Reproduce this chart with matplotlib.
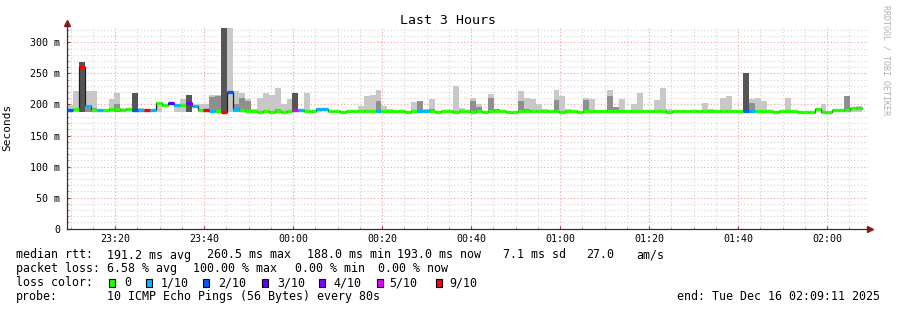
import numpy as np
import matplotlib
matplotlib.use("Agg")
import matplotlib.pyplot as plt
import matplotlib.dates as mdates
from matplotlib.patches import Rectangle
from datetime import datetime, timedelta

plt.rcParams['font.family'] = ['DejaVu Sans Mono']

# 80 s steps starting at 23:09:11
start = datetime(2025, 12, 15, 23, 9, 11)
step_s = 80

median = [190.8, 192.5, 259.7, 196.8, 190.5, 191.4, 191.0, 192.5, 192.0, 191.4,
          192.0, 191.4, 191.4, 191.4, 191.4, 202.7, 199.5, 201.6, 199.5, 199.5,
          201.6, 198.0, 191.0, 191.0, 189.2, 189.0, 188.2, 219.4, 192.0, 190.5,
          189.5, 189.5, 188.2, 188.8, 187.5, 189.0, 187.5, 188.7, 190.9, 191.0,
          188.7, 188.7, 192.0, 192.0, 188.7, 188.7, 187.5, 188.7, 188.7, 189.8,
          188.7, 189.0, 189.2, 188.7, 189.8, 188.7, 188.7, 187.5, 188.7, 189.2,
          189.2, 188.7, 187.5, 188.7, 188.7, 187.5, 188.7, 188.7, 187.5, 188.7,
          187.5, 188.7, 188.7, 188.7, 187.5, 187.5, 188.7, 189.8, 189.8, 189.8,
          189.8, 188.7, 189.8, 187.5, 188.7, 188.7, 187.5, 188.7, 188.7, 188.7,
          188.7, 188.7, 188.7, 188.7, 188.7, 188.7, 188.7, 188.7, 188.7, 188.7,
          188.7, 187.5, 188.7, 189.8, 188.7, 189.8, 188.7, 188.7, 188.7, 189.8,
          189.8, 189.8, 188.7, 188.7, 188.7, 188.7, 188.7, 188.7, 188.7, 187.5,
          188.7, 188.7, 188.7, 187.5, 187.5, 187.5, 192.0, 187.5, 187.5, 191.4,
          191.4, 191.4, 193.5, 193.5]

loss = [2, 0, 9, 1, 0, 1, 0, 0, 0, 0,
        0, 2, 1, 9, 1, 0, 0, 3, 1, 0,
        4, 1, 0, 9, 1, 0, 9, 2, 1, 0,
        0, 0, 0, 0, 0, 0, 0, 0, 5, 1,
        0, 0, 1, 1, 0, 0, 0, 0, 0, 0,
        0, 0, 1, 0, 0, 0, 0, 0, 0, 1,
        1, 0, 0, 0, 0, 0, 0, 0, 0, 0,
        0, 0, 0, 0, 0, 0, 0, 0, 0, 0,
        0, 0, 0, 0, 0, 0, 0, 0, 0, 0,
        0, 0, 0, 0, 0, 0, 0, 0, 0, 0,
        0, 0, 0, 0, 0, 0, 0, 0, 0, 0,
        0, 0, 0, 0, 2, 1, 0, 0, 0, 0,
        0, 0, 0, 0, 0, 0, 0, 0, 0, 0,
        0, 0, 0, 0]

smoke_top = [199.5, 221, 268, 221, 221, None, None, 208, 219, 195,
             None, 218, 195, None, None, 204, None, None, 201, 208.6,
             216, None, 201, 201, 216, 216, 323, 323, 221, 219,
             209, 192, 210, 219, 215, 227, 200, 208.6, 217.7, 192,
             217.7, None, 194, None, None, None, None, None, None, 198,
             214.4, 216, 224, 196.8, 192, None, None, None, 204, 206,
             192, 208, None, None, None, 229, 194, None, 211, 201,
             None, 216.6, 193, None, None, None, 221, 211, 208, 200,
             192, 191, 222.6, 213, 193, None, None, 209.7, 208, None,
             None, 224, 196, 208, 191, 200, 217.7, None, None, 206.5,
             225.7, 192, None, None, None, None, None, 203, 192, None,
             211, 213, None, None, 250, 208, 211, 205, None, None,
             None, 211, None, None, None, None, None, 201, None, None,
             None, 214, 194, 198]

smoke_dark = [None, None, 268, 195, 194, None, None, None, 200, None,
              None, 218, None, None, None, None, None, None, None, None,
              216, None, None, None, 212, 213, 323, None, 200, 210,
              205, None, None, None, None, 193, None, None, 217.7, None,
              None, None, None, None, None, None, None, None, None, None,
              None, None, 204.8, None, None, None, None, None, None, 205,
              None, 193, None, None, None, None, None, None, 204.8, 196,
              None, 211, 193, None, None, None, 205, 193, 191, None,
              None, None, 206.5, None, None, None, None, 206.5, None, None,
              None, 213, 196, None, None, None, None, None, None, None,
              None, None, None, None, None, None, None, None, None, None,
              None, None, None, None, 250, 201.6, None, None, None, None,
              None, None, None, None, None, None, None, None, None, None,
              None, 214, None, None]

loss_colors = {0: '#26ff00', 1: '#00b8ff', 2: '#0059ff', 3: '#5e00ff',
               4: '#7e00ff', 5: '#dd00ff', 9: '#ff0000'}
legend_keys = [0, 1, 2, 3, 4, 5, 9]
legend_labels = ['0', '1/10', '2/10', '3/10', '4/10', '5/10', '9/10']

W, H = 897, 310
fig = plt.figure(figsize=(W / 100, H / 100), dpi=100)
fig.patch.set_facecolor('white')
ax = fig.add_axes([67 / W, 1 - 228.7 / H, 801 / W, (228.7 - 26.8) / H])

n = len(median)
t = np.array([mdates.date2num(start + timedelta(seconds=step_s * i)) for i in range(n)])
wd = step_s / 86400.0
med = np.array(median, dtype=float)
top = np.array([np.nan if v is None else v for v in smoke_top], dtype=float)
dark = np.array([np.nan if v is None else v for v in smoke_dark], dtype=float)
# smoke starts at roughly the fastest ping of each step
base = np.minimum(med, 190.0) - 1.5

# smoke
m = ~np.isnan(top)
ax.bar(t[m], top[m] - base[m], bottom=base[m], width=wd, align='edge',
       color='#c8c8c8', linewidth=0, zorder=2)
m = ~np.isnan(dark)
dcol = ['#555555' if loss[i] >= 2 else '#8f8f8f' for i in np.where(m)[0]]
ax.bar(t[m], dark[m] - base[m], bottom=base[m], width=wd, align='edge',
       color=dcol, linewidth=0, zorder=3)

# median line
edges = np.append(t, t[-1] + wd)
ax.step(edges, np.append(med, med[-1]), where='post', color='#202020', lw=0.9, zorder=4)
ax.hlines(med, t, t + wd, colors=[loss_colors[l] for l in loss], lw=2.4, zorder=5)

t0 = mdates.date2num(start)
ax.set_xlim(t0, t0 + 3 / 24)
ax.set_ylim(0, 325)

ax.xaxis.set_major_locator(mdates.MinuteLocator(byminute=[0, 20, 40]))
ax.xaxis.set_minor_locator(mdates.MinuteLocator(byminute=range(0, 60, 5)))
ax.xaxis.set_major_formatter(mdates.DateFormatter('%H:%M'))
ax.set_yticks(np.arange(0, 301, 50))
ax.set_yticks(np.arange(0, 321, 10), minor=True)
ax.set_yticklabels(['0'] + ['%d m' % v for v in range(50, 301, 50)])

ax.grid(which='minor', color='#d4d4d4', linestyle=(0, (1, 2)), lw=0.8, zorder=0)
ax.grid(which='major', color='#f2a0a0', linestyle=(0, (1, 2)), lw=0.8, zorder=1)
ax.set_axisbelow(True)

ax.tick_params(axis='both', which='major', labelsize=7.2, direction='in', length=2,
               color='#b03030')
ax.tick_params(axis='both', which='minor', length=1.5, direction='in', color='#c07070')
ax.tick_params(axis='x', pad=4)
ax.tick_params(axis='y', pad=5)

for s in ['top', 'right']:
    ax.spines[s].set_visible(False)
for s in ['left', 'bottom']:
    ax.spines[s].set_color('#303030')
    ax.spines[s].set_linewidth(0.9)
ax.spines['left'].set_bounds(0, 330)

ax.plot([0], [1.02], marker='^', color='#8b1a1a', ms=4, transform=ax.transAxes, clip_on=False)
ax.plot([1.003], [0], marker='>', color='#8b1a1a', ms=4, transform=ax.transAxes, clip_on=False)

ax.set_ylabel('Seconds', fontsize=8)
ax.yaxis.set_label_coords(-(67 - 12) / 801, 0.5)

fig.text(448 / W, 1 - 20 / H, 'Last 3 Hours', ha='center', va='center', fontsize=9.5)
fig.text(886 / W, 1 - 5 / H, 'RRDTOOL / TOBI OETIKER', ha='center', va='top',
         rotation=270, fontsize=6, color='#b0b0b0')


def txt(x, y, s, **kw):
    fig.text(x / W, 1 - y / H, s, va='center', fontsize=8.4, **kw)


y1, y2, y3, y4 = 255, 268.3, 282.7, 296.7
for s, x in [('median rtt:', 16), ('191.2 ms avg', 107), ('260.5 ms max', 207),
             ('188.0 ms min', 307), ('193.0 ms now', 397), ('7.1 ms sd', 503),
             ('27.0', 586), ('am/s', 636)]:
    txt(x, y1, s)
for s, x in [('packet loss:', 16), ('6.58 % avg', 107), ('100.00 % max', 193),
             ('0.00 % min', 295), ('0.00 % now', 378)]:
    txt(x, y2, s)
txt(16, y3, 'loss color:')
box_x = [109, 146, 203, 262, 319, 377, 436]
lab_x = [124, 161, 218, 277, 333, 389, 449]
for k, lab, bx, lx in zip(legend_keys, legend_labels, box_x, lab_x):
    fig.add_artist(Rectangle((bx / W, 1 - (y3 + 4) / H), 6 / W, 8 / H,
                             transform=fig.transFigure, facecolor=loss_colors[k],
                             edgecolor='black', lw=0.8))
    txt(lx, y3, lab)
txt(16, y4, 'probe:')
txt(107, y4, '10 ICMP Echo Pings (56 Bytes) every 80s')
txt(880, y4, 'end: Tue Dec 16 02:09:11 2025', ha='right')

fig.savefig('out.png', dpi=100, facecolor='white')
